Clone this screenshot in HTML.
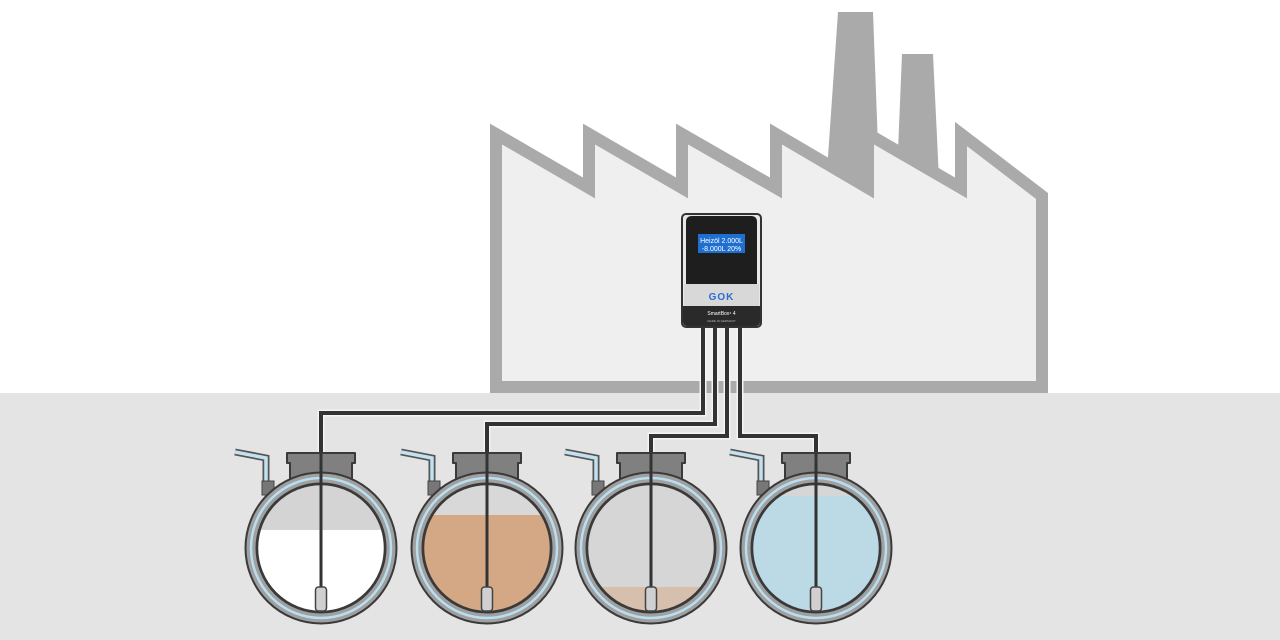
<!DOCTYPE html>
<html><head><meta charset="utf-8"><style>html,body{margin:0;padding:0;background:#fff}svg{display:block}</style></head>
<body>
<svg width="1280" height="640" viewBox="0 0 1280 640" xmlns="http://www.w3.org/2000/svg">
<defs>
<clipPath id="c"><circle cx="0" cy="0" r="63"/></clipPath>
<g id="tankbase">
  <path d="M-86,-96 L-55,-90 L-55,-58" fill="none" stroke="#555" stroke-width="7"/>
  <path d="M-86,-96 L-55,-90 L-55,-58" fill="none" stroke="#c2e2f2" stroke-width="3.5"/>
  <rect x="-59" y="-67" width="12" height="14" fill="#777" stroke="#444" stroke-width="1"/>
  <path d="M-34,-95 h68 v10 h-3 v20 h-62 v-20 h-3 z" fill="#808080" stroke="#3a3a3a" stroke-width="2" stroke-linejoin="round"/>
</g>
<g id="tankring">
  <circle cx="0" cy="0" r="70" fill="none" stroke="#3a3a3a" stroke-width="13"/>
  <circle cx="0" cy="0" r="70" fill="none" stroke="#a0a0a0" stroke-width="9"/>
  <circle cx="0" cy="0" r="70" fill="none" stroke="#b8def0" stroke-width="2.5"/>
  <circle cx="0" cy="0" r="63.5" fill="none" stroke="#3a3a3a" stroke-width="1.5"/>
  <line x1="0" y1="-95" x2="0" y2="40" stroke="#333" stroke-width="3"/>
  <rect x="-5.5" y="39" width="11" height="24" rx="3" fill="#d0d0d0" stroke="#444" stroke-width="1.5"/>
</g>
</defs>
<rect width="1280" height="640" fill="#fff"/>
<rect x="0" y="393" width="1280" height="247" fill="#e4e4e4"/>
<polygon points="838,12 873,12 880,200 825,200" fill="#aaaaaa"/>
<polygon points="902,54 933,54 940,200 896,200" fill="#aaaaaa"/>
<polygon points="496,134 589,188 589,134 682,188 682,134 776,188 776,134 868,188 868,134 961,188 961,134 1042,196 1042,387 496,387" fill="#efefef" stroke="#aaaaaa" stroke-width="12" stroke-linejoin="miter"/>
<g fill="none" stroke-linejoin="miter">
<g stroke="#f4f4f4" stroke-width="7">
<path d="M703,327 V413 H321 V455"/><path d="M715,327 V424 H487 V455"/><path d="M727,327 V436 H651 V455"/><path d="M740,327 V436 H816 V455"/>
</g>
<g stroke="#333" stroke-width="4">
<path d="M703,327 V413 H321 V455"/><path d="M715,327 V424 H487 V455"/><path d="M727,327 V436 H651 V455"/><path d="M740,327 V436 H816 V455"/>
</g>
</g>
<g transform="translate(321,548)">
  <use href="#tankbase"/>
  <g clip-path="url(#c)"><rect x="-70" y="-70" width="140" height="140" fill="#d4d4d4"/><rect x="-70" y="-18" width="140" height="90" fill="#ffffff"/></g>
  <use href="#tankring"/>
</g>
<g transform="translate(487,548)">
  <use href="#tankbase"/>
  <g clip-path="url(#c)"><rect x="-70" y="-70" width="140" height="140" fill="#d8d8d8"/><rect x="-70" y="-33" width="140" height="105" fill="#d4a884"/></g>
  <use href="#tankring"/>
</g>
<g transform="translate(651,548)">
  <use href="#tankbase"/>
  <g clip-path="url(#c)"><rect x="-70" y="-70" width="140" height="140" fill="#d6d6d6"/><rect x="-70" y="39" width="140" height="40" fill="#d6bfac"/></g>
  <use href="#tankring"/>
</g>
<g transform="translate(816,548)">
  <use href="#tankbase"/>
  <g clip-path="url(#c)"><rect x="-70" y="-70" width="140" height="140" fill="#d6d6d6"/><rect x="-70" y="-52" width="140" height="125" fill="#bcdae5"/></g>
  <use href="#tankring"/>
</g>
<rect x="682" y="214" width="79" height="113" rx="4" fill="#e8e8e8" stroke="#333" stroke-width="2"/>
<path d="M686,222 Q686,216 692,216 H751 Q757,216 757,222 V284 H686 Z" fill="#1e1e1e"/>
<rect x="698" y="234" width="47" height="19" fill="#1f6fd1"/>
<text x="721.5" y="243" font-family="Liberation Sans, sans-serif" font-size="7" fill="#fff" text-anchor="middle">Heizöl 2.000L</text>
<text x="721.5" y="251" font-family="Liberation Sans, sans-serif" font-size="7" fill="#fff" text-anchor="middle">-8.000L   20%</text>
<rect x="684" y="284" width="75" height="22" fill="#d8d8d8"/>
<text x="721.5" y="300" font-family="Liberation Sans, sans-serif" font-size="10" font-weight="bold" fill="#2a6fd0" text-anchor="middle" letter-spacing="1">GOK</text>
<path d="M683,306 H760 V322 Q760,326 756,326 H687 Q683,326 683,322 Z" fill="#2a2a2a"/>
<text x="721.5" y="315" font-family="Liberation Sans, sans-serif" font-size="5" fill="#fff" text-anchor="middle">SmartBox⁴ 4</text>
<text x="721.5" y="322" font-family="Liberation Sans, sans-serif" font-size="3" fill="#bbb" text-anchor="middle">MADE IN GERMANY</text>
</svg>
</body></html>
